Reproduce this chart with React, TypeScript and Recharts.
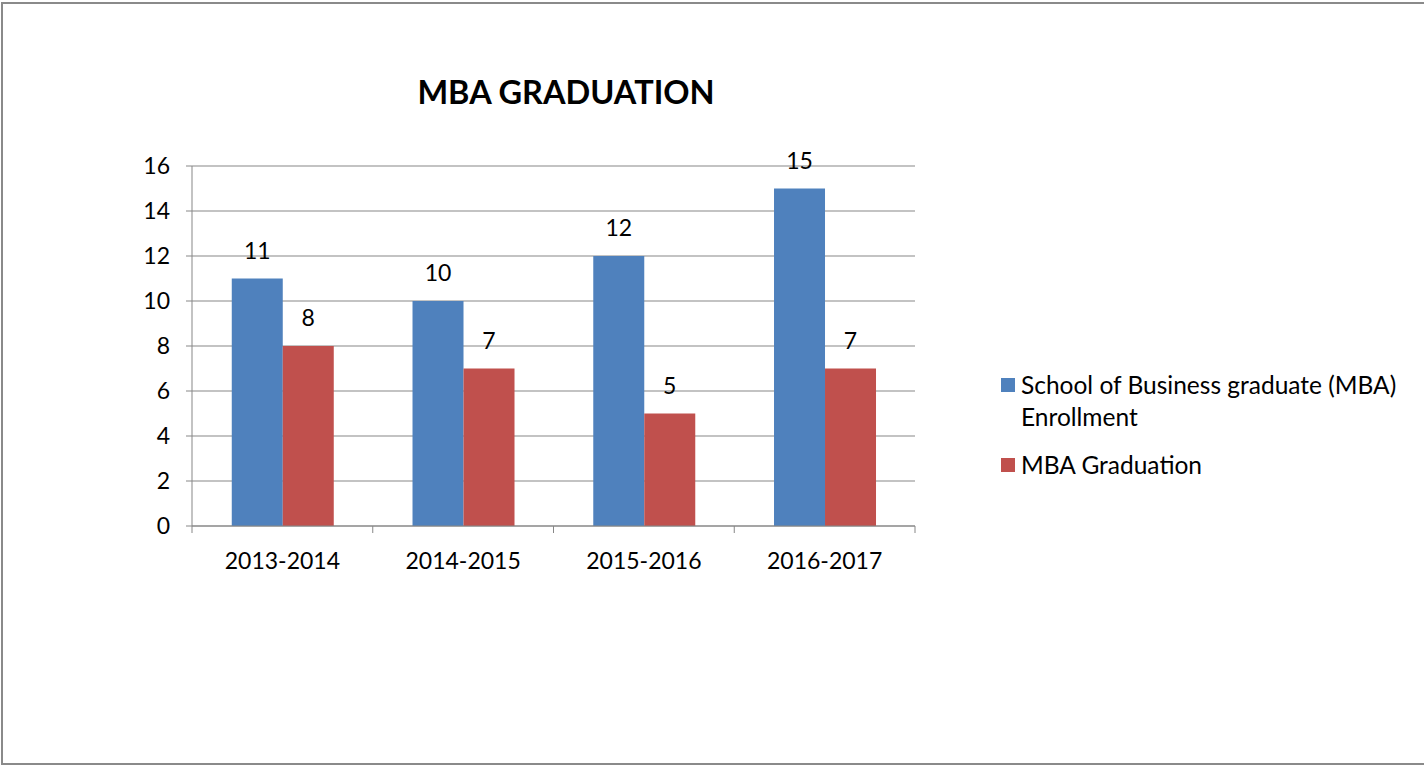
import { BarChart, Bar, XAxis, YAxis, CartesianGrid, LabelList } from 'recharts'

const categories = ['2013-2014', '2014-2015', '2015-2016', '2016-2017']
const enrollment = [11, 10, 12, 15]
const graduation = [8, 7, 5, 7]
const yTicks = [0, 2, 4, 6, 8, 10, 12, 14, 16]
const seriesNames = ['School of Business graduate (MBA) Enrollment', 'MBA Graduation']

const data = categories.map((year, i) => ({
  year,
  enrollment: enrollment[i],
  graduation: graduation[i],
}))

const FONT = 'Lato, "Open Sans", sans-serif'
const AXIS = '#878787'
const BLUE = '#4F81BD'
const RED = '#C0504D'
const seriesColors = [BLUE, RED]

const W = 1424
const H = 766
const MARGIN = { top: 166, right: 509, bottom: 200, left: 132 }
const Y_AXIS_W = 60
const PLOT_W = W - MARGIN.left - MARGIN.right - Y_AXIS_W

// x ticks sit on the category boundaries, like the office chart
const YearTick = ({ x, y, payload, index }: any) => {
  const half = PLOT_W / categories.length / 2
  return (
    <g>
      <line x1={x - half} x2={x - half} y1={y} y2={y + 7} stroke={AXIS} />
      {index === categories.length - 1 && (
        <line x1={x + half} x2={x + half} y1={y} y2={y + 7} stroke={AXIS} />
      )}
      <text x={x} y={y + 43} textAnchor="middle" fill="#000" fontSize={23} fontFamily={FONT}>
        {payload.value}
      </text>
    </g>
  )
}

const LegendBox = () => (
  <div
    style={{
      position: 'absolute',
      left: 1001,
      top: 369,
      width: 420,
      fontFamily: FONT,
      fontSize: 24.5,
      lineHeight: '32px',
      color: '#000',
    }}
  >
    {seriesNames.map((name, i) => (
      <div key={name} style={{ display: 'flex', alignItems: 'flex-start', marginBottom: i === 0 ? 16 : 0 }}>
        <span style={{ width: 14, height: 14, background: seriesColors[i], marginTop: 9, marginRight: 6, flexShrink: 0 }} />
        <span style={{ width: 396 }}>{name}</span>
      </div>
    ))}
  </div>
)

export default function App() {
  return (
    <div style={{ position: 'absolute', left: 0, top: 0, width: W, height: H, background: '#fff', overflow: 'hidden' }}>
      {/* frame runs off the right edge, as in the screenshot */}
      <div
        style={{
          position: 'absolute',
          left: 1,
          top: 2,
          width: 1430,
          height: 763,
          boxSizing: 'border-box',
          border: '2px solid #8a8a8a',
        }}
      />
      <div
        style={{
          position: 'absolute',
          left: 366,
          top: 73,
          width: 400,
          textAlign: 'center',
          fontFamily: FONT,
          fontWeight: 700,
          fontSize: 32.5,
          lineHeight: '38px',
          color: '#000',
        }}
      >
        MBA GRADUATION
      </div>
      <div style={{ position: 'absolute', left: 0, top: 0 }}>
        <BarChart width={W} height={H} data={data} margin={MARGIN} barCategoryGap="22%" barGap={0}>
          <CartesianGrid vertical={false} stroke={AXIS} strokeWidth={1} />
          <XAxis
            dataKey="year"
            height={40}
            axisLine={{ stroke: AXIS }}
            tickLine={false}
            tickSize={0}
            tickMargin={0}
            interval={0}
            tick={<YearTick />}
          />
          <YAxis
            width={Y_AXIS_W}
            domain={[0, 16]}
            ticks={yTicks}
            interval={0}
            axisLine={{ stroke: AXIS }}
            tickLine={{ stroke: AXIS }}
            tickSize={6}
            tickMargin={16}
            tick={{ fill: '#000', fontSize: 23, fontFamily: FONT }}
          />
          <Bar dataKey="enrollment" name={seriesNames[0]} fill={BLUE} isAnimationActive={false}>
            <LabelList dataKey="enrollment" position="top" offset={20} fill="#000" fontSize={23} fontFamily={FONT} />
          </Bar>
          <Bar dataKey="graduation" name={seriesNames[1]} fill={RED} isAnimationActive={false}>
            <LabelList dataKey="graduation" position="top" offset={20} fill="#000" fontSize={23} fontFamily={FONT} />
          </Bar>
        </BarChart>
      </div>
      <LegendBox />
    </div>
  )
}
